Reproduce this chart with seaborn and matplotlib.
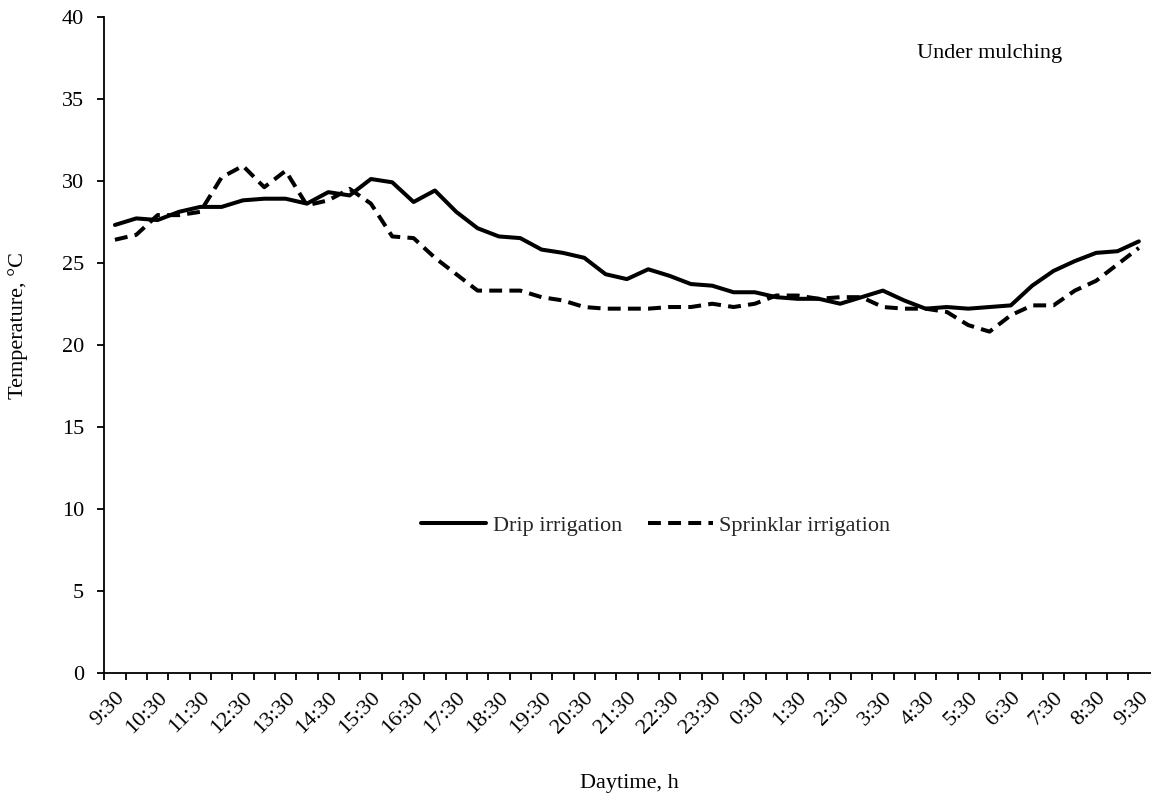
import numpy as np
import pandas as pd
import matplotlib
matplotlib.use("Agg")
import matplotlib.pyplot as plt
import seaborn as sns
from matplotlib.lines import Line2D

# ---- data ----
times = ["9:30", "10:00", "10:30", "11:00", "11:30", "12:00", "12:30", "13:00", "13:30", "14:00",
         "14:30", "15:00", "15:30", "16:00", "16:30", "17:00", "17:30", "18:00", "18:30", "19:00",
         "19:30", "20:00", "20:30", "21:00", "21:30", "22:00", "22:30", "23:00", "23:30", "0:00",
         "0:30", "1:00", "1:30", "2:00", "2:30", "3:00", "3:30", "4:00", "4:30", "5:00",
         "5:30", "6:00", "6:30", "7:00", "7:30", "8:00", "8:30", "9:00", "9:30"]
drip = [27.3, 27.7, 27.6, 28.1, 28.4, 28.4, 28.8, 28.9, 28.9, 28.6,
        29.3, 29.1, 30.1, 29.9, 28.7, 29.4, 28.1, 27.1, 26.6, 26.5,
        25.8, 25.6, 25.3, 24.3, 24.0, 24.6, 24.2, 23.7, 23.6, 23.2,
        23.2, 22.9, 22.8, 22.8, 22.5, 22.9, 23.3, 22.7, 22.2, 22.3,
        22.2, 22.3, 22.4, 23.6, 24.5, 25.1, 25.6, 25.7, 26.3]
sprinkler = [26.4, 26.7, 27.9, 27.9, 28.1, 30.2, 30.9, 29.6, 30.6, 28.5,
             28.8, 29.5, 28.6, 26.6, 26.5, 25.3, 24.3, 23.3, 23.3, 23.3,
             22.9, 22.7, 22.3, 22.2, 22.2, 22.2, 22.3, 22.3, 22.5, 22.3,
             22.5, 23.0, 23.0, 22.8, 22.9, 22.9, 22.3, 22.2, 22.2, 22.0,
             21.2, 20.8, 21.8, 22.4, 22.4, 23.3, 23.9, 24.9, 25.9]
series_names = ["Drip irrigation", "Sprinklar irrigation"]

idx = np.arange(len(times))
df = pd.DataFrame({
    "idx": np.concatenate([idx, idx]),
    "temp": drip + sprinkler,
    "series": [series_names[0]] * len(drip) + [series_names[1]] * len(sprinkler),
})

sns.set_style("ticks")
plt.rcParams["font.family"] = ["Liberation Serif", "DejaVu Serif"]
FS = 16

fig = plt.figure(figsize=(11.51, 7.99), dpi=100)
ax = fig.add_axes([0.0906, 0.1577, 0.9094, 0.8216])

dash = (3.2, 1.8)
sns.lineplot(data=df, x="idx", y="temp", hue="series", style="series",
             palette=["black", "black"], dashes={series_names[0]: "", series_names[1]: dash},
             linewidth=2.9, ax=ax, legend=False, estimator=None, sort=False)

ax.set_xlim(-0.5, len(times) - 0.43)
ax.set_ylim(0, 40)
ax.set_yticks(np.arange(0, 41, 5))

ax.set_xticks(idx[::2])
ax.set_xticklabels(times[::2], rotation=45, ha="right", rotation_mode="anchor")
ax.set_xticks(np.arange(-0.5, len(times) - 0.5, 1.0), minor=True)
ax.tick_params(axis="x", which="major", length=0, pad=11, labelsize=FS, colors="black")
ax.tick_params(axis="x", which="minor", length=5, width=1.3, direction="out", color="black")
ax.tick_params(axis="y", length=5, width=1.3, direction="out", labelsize=FS, colors="black", pad=9.5)

for s in ["top", "right"]:
    ax.spines[s].set_visible(False)
for s in ["left", "bottom"]:
    ax.spines[s].set_color("black")
    ax.spines[s].set_linewidth(1.3)

ax.set_xlabel("Daytime, h", fontsize=FS, color="black")
ax.xaxis.set_label_coords(0.502, -0.1676)
ax.xaxis.label.set_va("center")
ax.set_ylabel("Temperature, °C", fontsize=FS, color="black")
ax.yaxis.set_label_coords(-0.0824, 0.53)
ax.yaxis.label.set_va("center")

handles = [Line2D([], [], color="black", lw=2.9, ls="-"),
           Line2D([], [], color="black", lw=2.9, ls=(0, dash))]
ax.legend(handles, series_names, loc="center", bbox_to_anchor=(0.527, 0.225), ncol=2,
          frameon=False, fontsize=FS, handlelength=2.93, columnspacing=1.17, handletextpad=0.28)

ax.text(0.846, 0.943, "Under mulching", transform=ax.transAxes, ha="center", va="center",
        fontsize=FS, color="black")

fig.savefig("out.png", dpi=100)
